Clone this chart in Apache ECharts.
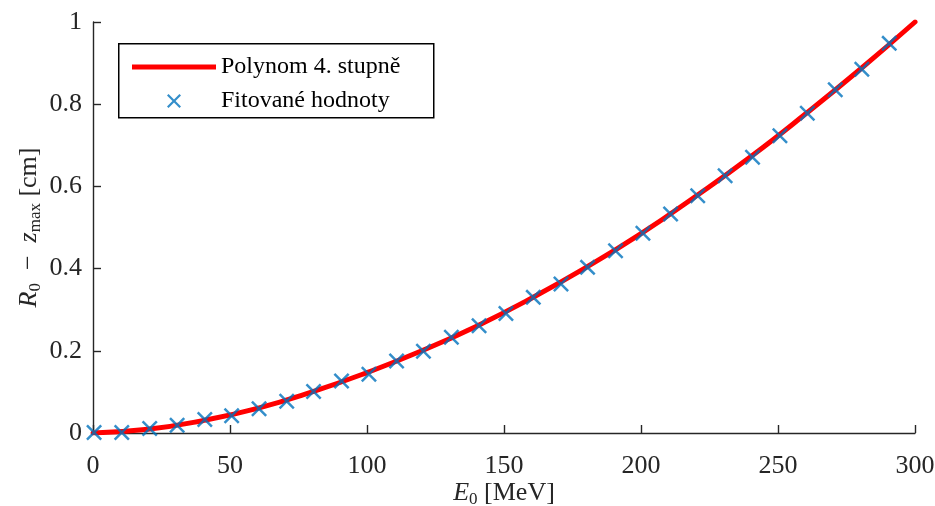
<!DOCTYPE html>
<html>
<head>
<meta charset="utf-8">
<script src="https://cdn.jsdelivr.net/npm/echarts@6/dist/echarts.min.js"></script>
<style>
html,body{margin:0;padding:0;background:#fff;}
#c{width:935px;height:506px;}
</style>
</head>
<body>
<div id="c"></div>
<script>
// Fitted values (markers)
const fitX = [0.4,10.5,20.7,30.7,40.8,50.6,60.6,70.7,80.5,90.7,100.7,110.8,120.6,130.8,140.9,150.7,160.7,170.8,180.5,190.7,200.7,210.8,220.7,230.7,240.7,250.7,260.7,270.9,280.6,290.6];
const fitY = [0.001,0.001,0.011,0.019,0.033,0.042,0.059,0.077,0.101,0.1265,0.143,0.175,0.199,0.233,0.261,0.291,0.330,0.3625,0.403,0.4436,0.486,0.533,0.577,0.626,0.671,0.723,0.778,0.835,0.885,0.948];
// Polynomial curve
const polyX = [0,20,40,60,80,100,120,140,160,180,200,220,240,260,280,300];
const polyY = [0.0,0.009,0.030,0.060,0.100,0.147,0.200,0.260,0.328,0.403,0.485,0.576,0.672,0.776,0.885,1.0];
const xTicks = [0,50,100,150,200,250,300];
const yTicks = [0,0.2,0.4,0.6,0.8,1];
const seriesNames = ['Polynom 4. stupně','Fitované hodnoty'];
const xName = '{i|E}{s|0}{t| [MeV]}';
const yName = '{i|R}{s|0}{t|\u2002−\u2002}{i|z}{s|max}{t| [cm]}';

const FONT = '"Liberation Serif", "Times New Roman", serif';
const AX = '#262626';
const xSym = 'path://M0,1.1L1.1,0L5,3.9L8.9,0L10,1.1L6.1,5L10,8.9L8.9,10L5,6.1L1.1,10L0,8.9L3.9,5Z';
const lineIcon = 'path://M0,0L84,0L84,5L0,5Z';
const rich = {
  i:{fontStyle:'italic',fontSize:26,fontFamily:FONT,color:AX,lineHeight:30},
  t:{fontSize:26,fontFamily:FONT,color:AX,lineHeight:30},
  s:{fontSize:17,fontFamily:FONT,color:AX,lineHeight:17,verticalAlign:'bottom'}
};

const chart = echarts.init(document.getElementById('c'), null, {renderer:'canvas'});
chart.setOption({
  animation:false,
  backgroundColor:'#fff',
  grid:{left:93,right:20,top:22,bottom:73,containLabel:false,outerBoundsMode:'none'},
  graphic:[{
    type:'rect', left:118, top:43, z:10,
    shape:{width:315,height:74},
    style:{fill:'#fff',stroke:'#000',lineWidth:1.5}
  }],
  legend:{
    left:118, top:43, orient:'vertical', z:20,
    data:[{name:seriesNames[0], icon:lineIcon},{name:seriesNames[1], icon:xSym}],
    itemWidth:84, itemHeight:14, itemGap:10, textGap:7,
    padding:[12,11,10,14],
    borderWidth:0,
    textStyle:{fontFamily:FONT,fontSize:24,color:'#000',lineHeight:20}
  },
  xAxis:{
    type:'value', min:xTicks[0], max:xTicks[xTicks.length-1], interval:50,
    name:xName, nameLocation:'middle', nameGap:45, nameMoveOverlap:false,
    nameTextStyle:{fontFamily:FONT,fontSize:26,color:AX,rich:rich},
    axisLine:{lineStyle:{color:AX,width:1.4}},
    axisTick:{inside:true,length:8,lineStyle:{color:AX,width:1.4}},
    axisLabel:{fontFamily:FONT,fontSize:26,color:AX,margin:20},
    splitLine:{show:false}
  },
  yAxis:{
    type:'value', min:yTicks[0], max:yTicks[yTicks.length-1], interval:0.2,
    name:yName, nameLocation:'middle', nameGap:49, nameRotate:90, nameMoveOverlap:false,
    nameTextStyle:{fontFamily:FONT,fontSize:26,color:AX,rich:rich},
    axisLine:{show:true,lineStyle:{color:AX,width:1.4}},
    axisTick:{show:true,inside:true,length:8,lineStyle:{color:AX,width:1.4}},
    axisLabel:{fontFamily:FONT,fontSize:26,color:AX,margin:11,
      formatter:function(v){return String(Math.round(v*10)/10);}},
    splitLine:{show:false}
  },
  series:[
    {
      name:seriesNames[0], type:'line', smooth:true, symbol:'none',
      data:polyX.map((x,i)=>[x,polyY[i]]),
      lineStyle:{color:'#ff0000',width:5,cap:'round'},
      itemStyle:{color:'#ff0000'}, z:2
    },
    {
      name:seriesNames[1], type:'scatter', symbol:xSym, symbolSize:16,
      data:fitX.map((x,i)=>[x,fitY[i]]),
      itemStyle:{color:'#0072BD'}, z:3
    }
  ]
});
</script>
</body>
</html>
